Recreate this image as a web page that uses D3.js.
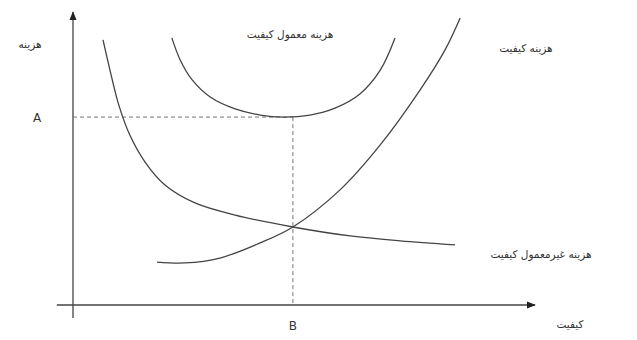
<!DOCTYPE html>
<html>
<head>
<meta charset="utf-8">
<script src="https://cdn.jsdelivr.net/npm/d3@7"></script>
<style>
  body { margin: 0; background: #fff; }
  text { font-family: "DejaVu Sans", sans-serif; fill: #333; }
</style>
</head>
<body>
<script>
// quality (x) and cost (y) points
var fallingX = [0.65, 0.80, 0.99, 1.23, 1.56, 1.99, 2.64, 3.51, 4.76, 6.0, 7.08, 8.27];
var fallingY = [9.14, 8.10, 6.90, 5.86, 4.93, 4.14, 3.52, 3.10, 2.69, 2.38, 2.21, 2.07];

var risingX = [1.82, 2.42, 3.18, 4.05, 4.76, 5.78, 6.65, 7.51, 8.05, 8.38];
var risingY = [1.48, 1.45, 1.62, 2.14, 2.69, 3.97, 5.52, 7.41, 8.79, 9.90];

var totalX = [2.14, 2.32, 2.58, 2.97, 3.51, 4.05, 4.55, 5.13, 5.67, 6.21, 6.65, 6.97];
var totalY = [9.21, 8.45, 7.76, 7.17, 6.76, 6.55, 6.48, 6.55, 6.79, 7.28, 8.10, 9.21];

var pointA = 6.48;   // cost at optimum
var pointB = 4.76;   // quality at optimum

var labels = {
  yAxis: "هزینه",
  xAxis: "کیفیت",
  total: "هزینه معمول کیفیت",
  rising: "هزینه کیفیت",
  falling: "هزینه غیرمعمول کیفیت"
};

var width = 637, height = 340;
var margin = {left: 73, right: 102, top: 15, bottom: 35};

var x = d3.scaleLinear().domain([0, 10]).range([margin.left, width - margin.right]);
var y = d3.scaleLinear().domain([0, 10]).range([height - margin.bottom, margin.top]);

var svg = d3.select("body").append("svg").attr("width", width).attr("height", height);

svg.append("defs").append("marker")
    .attr("id", "arrow")
    .attr("viewBox", "0 0 10 10")
    .attr("refX", 9).attr("refY", 5)
    .attr("markerWidth", 7).attr("markerHeight", 7)
    .attr("orient", "auto")
  .append("path")
    .attr("d", "M0,1 L10,5 L0,9 Z")
    .attr("fill", "#222");

var stroke = "#444";

// axes
svg.append("line")
    .attr("x1", x(-0.35)).attr("y1", y(0))
    .attr("x2", x(10)).attr("y2", y(0))
    .attr("stroke", stroke).attr("stroke-width", 1.3)
    .attr("marker-end", "url(#arrow)");
svg.append("line")
    .attr("x1", x(0)).attr("y1", y(-0.45))
    .attr("x2", x(0)).attr("y2", y(10.1))
    .attr("stroke", stroke).attr("stroke-width", 1.3)
    .attr("marker-end", "url(#arrow)");

// dashed guides
svg.append("line")
    .attr("x1", x(0)).attr("y1", y(pointA))
    .attr("x2", x(pointB)).attr("y2", y(pointA))
    .attr("stroke", "#666").attr("stroke-width", 0.9)
    .attr("stroke-dasharray", "4,3");
svg.append("line")
    .attr("x1", x(pointB)).attr("y1", y(pointA))
    .attr("x2", x(pointB)).attr("y2", y(0))
    .attr("stroke", "#666").attr("stroke-width", 0.9)
    .attr("stroke-dasharray", "4,3");

var line = d3.line()
    .x(function(d){ return x(d[0]); })
    .y(function(d){ return y(d[1]); })
    .curve(d3.curveCatmullRom.alpha(0.5));

[[fallingX, fallingY], [risingX, risingY], [totalX, totalY]].forEach(function(s){
  svg.append("path")
      .attr("d", line(d3.zip(s[0], s[1])))
      .attr("fill", "none")
      .attr("stroke", stroke)
      .attr("stroke-width", 1.3);
});

// texts
function label(t, px, py, size) {
  svg.append("text")
      .attr("x", px).attr("y", py)
      .attr("text-anchor", "middle")
      .attr("direction", "rtl")
      .attr("font-size", size || 10.5)
      .text(t);
}
label(labels.yAxis, 30, 48);
label("A", 37, y(pointA) + 5, 12);
label("B", x(pointB), 330, 12);
label(labels.xAxis, 570, 328);
label(labels.total, 290, 38);
label(labels.rising, 526, 52);
label(labels.falling, 541, 258);
</script>
</body>
</html>
